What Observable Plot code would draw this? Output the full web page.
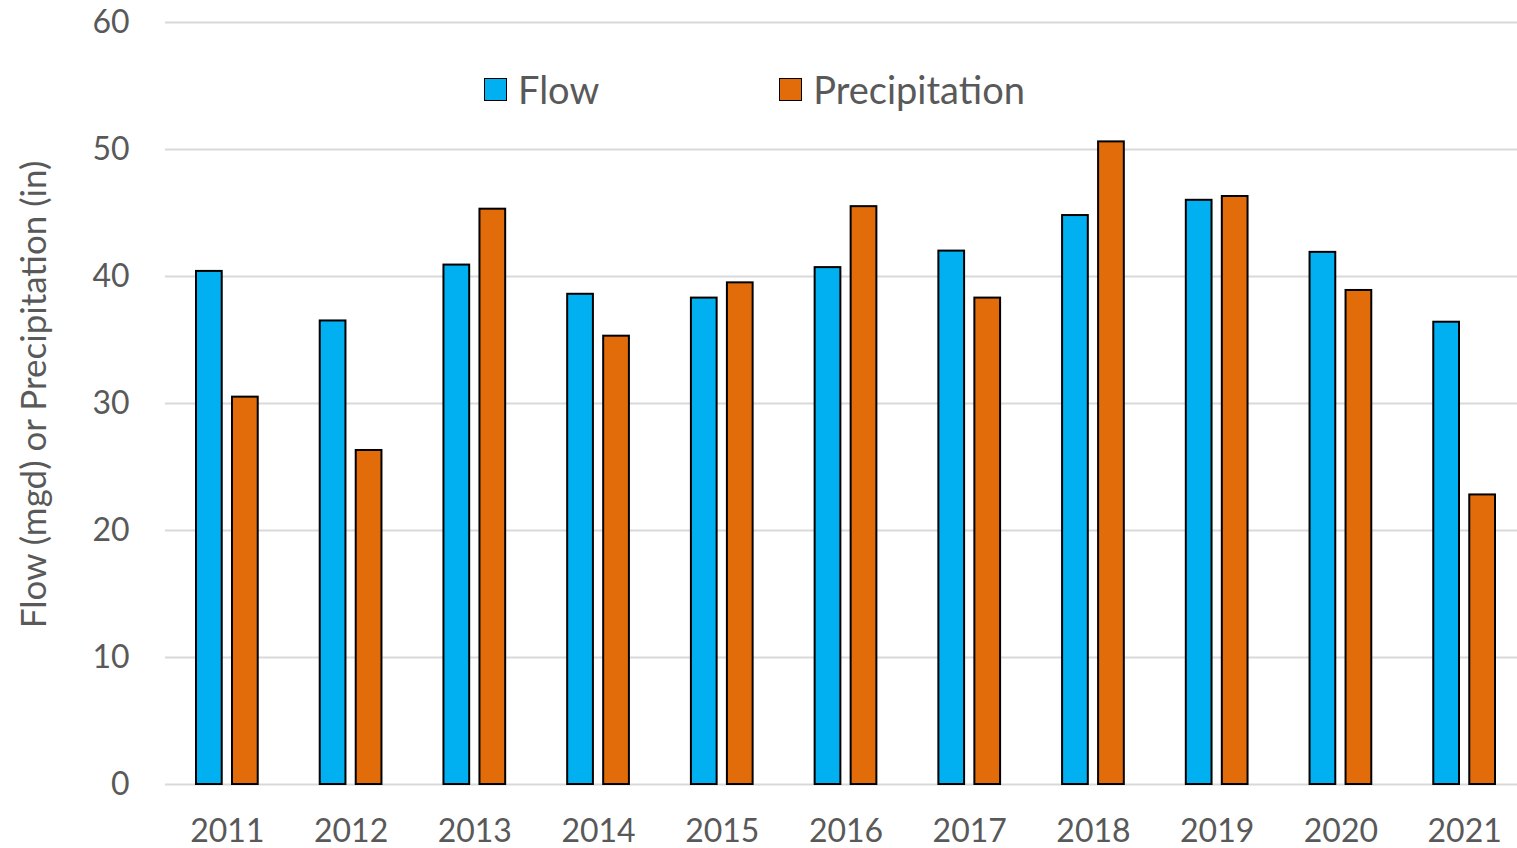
<!DOCTYPE html>
<html>
<head>
<meta charset="utf-8">
<script src="https://cdn.jsdelivr.net/npm/d3@7"></script>
<script src="https://cdn.jsdelivr.net/npm/@observablehq/plot@0.6"></script>
<style>
  html, body { margin: 0; padding: 0; background: #fff; overflow: hidden; }
  #wrap { position: relative; width: 1517px; height: 848px; font-family: Lato, "Open Sans", sans-serif; }
  #legend { position: absolute; top: 66px; left: 484px; display: flex; align-items: center; color: #595959; font-size: 38px; }
  .item { display: flex; align-items: center; }
  .sw { width: 21px; height: 21px; border: 1.5px solid #000; margin-right: 11px; }
</style>
</head>
<body>
<div id="wrap"><div id="legend"></div></div>
<script>
const years = ["2011","2012","2013","2014","2015","2016","2017","2018","2019","2020","2021"];
const flow = [40.4, 36.5, 40.9, 38.6, 38.3, 40.7, 42.0, 44.8, 46.0, 41.9, 36.4];
const precipitation = [30.5, 26.3, 45.3, 35.3, 39.5, 45.5, 38.3, 50.6, 46.3, 38.9, 22.8];
const seriesNames = ["Flow", "Precipitation"];
const seriesColors = ["#00b0f0", "#e36c0a"];
const yTicks = [0, 10, 20, 30, 40, 50, 60];

const flowData = years.map((y, i) => ({year: y, value: flow[i]}));
const precData = years.map((y, i) => ({year: y, value: precipitation[i]}));

const chart = Plot.plot({
  width: 1517,
  height: 848,
  marginTop: 22,
  marginBottom: 64,
  marginLeft: 165,
  marginRight: 0,
  style: {fontFamily: "Lato, 'Open Sans', sans-serif", color: "#595959", background: "#fff"},
  x: {type: "band", domain: years, range: [165, 1526], padding: 0, round: false, label: null},
  y: {domain: [0, 60], label: null},
  marks: [
    Plot.ruleY(yTicks, {stroke: "#d9d9d9", strokeWidth: 2}),
    Plot.barY(flowData, {x: "year", y: "value", fill: seriesColors[0], stroke: "#000", strokeWidth: 2, insetLeft: 31, insetRight: 67}),
    Plot.barY(precData, {x: "year", y: "value", fill: seriesColors[1], stroke: "#000", strokeWidth: 2, insetLeft: 67, insetRight: 31}),
    Plot.axisY(yTicks, {tickSize: 0, tickPadding: 36, fontSize: 32, fill: "#595959", label: null}),
    Plot.axisX({tickSize: 0, tickPadding: 35, fontSize: 32, fill: "#595959", label: null}),
    Plot.text(["Flow (mgd) or Precipitation (in)"], {frameAnchor: "left", dx: -131, dy: -9, rotate: -90, textAnchor: "middle", fontSize: 35, fill: "#595959"})
  ]
});
document.getElementById("wrap").prepend(chart);

const legend = document.getElementById("legend");
seriesNames.forEach((name, i) => {
  const item = document.createElement("div");
  item.className = "item";
  if (i > 0) item.style.marginLeft = "180px";
  const sw = document.createElement("div");
  sw.className = "sw";
  sw.style.background = seriesColors[i];
  const t = document.createElement("span");
  t.textContent = name;
  item.append(sw, t);
  legend.append(item);
});
</script>
</body>
</html>
